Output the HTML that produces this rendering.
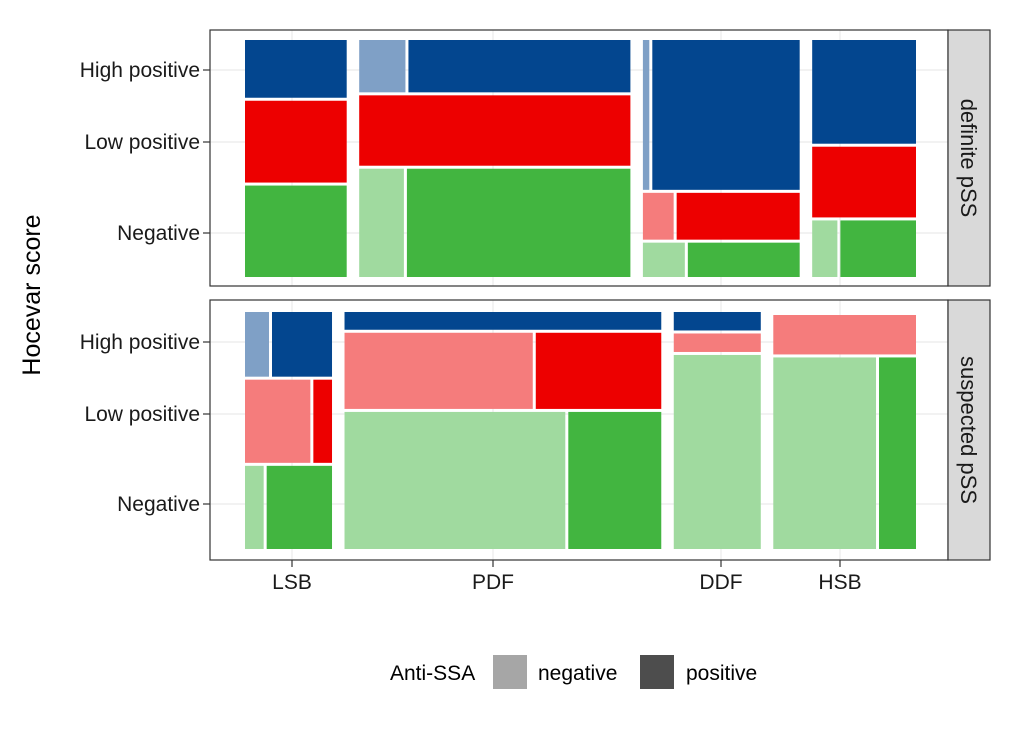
<!DOCTYPE html>
<html><head><meta charset="utf-8"><style>
body{margin:0;background:#fff;}
svg text{font-family:"Liberation Sans",Arial,sans-serif;}
</style></head><body>
<svg id="chart" width="1019" height="728" viewBox="0 0 1019 728" xmlns="http://www.w3.org/2000/svg">
<rect width="1019" height="728" fill="#fff"/>
<text transform="translate(40,295) rotate(-90)" text-anchor="middle" font-size="25" fill="#000">Hocevar score</text>
<g>
<text x="390" y="680" font-size="21" fill="#000">Anti-SSA</text>
<rect x="493" y="655" width="34" height="34" fill="#a6a6a6"/>
<text x="538" y="680" font-size="21" fill="#000">negative</text>
<rect x="640" y="655" width="34" height="34" fill="#4d4d4d"/>
<text x="686" y="680" font-size="21" fill="#000">positive</text>
</g>
</svg>
<script>
const groups = ["LSB","PDF","DDF","HSB"];
const levels = ["High positive","Low positive","Negative"];
const panels = ["definite pSS","suspected pSS"];
// counts [negative, positive] per group per level (High, Low, Negative)
const definiteCounts = [
  [[0,12],[0,17],[0,19]],
  [[5,24],[0,39],[10,50]],
  [[2,46],[3,12],[3,8]],
  [[0,22],[0,15],[3,9]]
];
const suspectedCounts = [
  [[2,5],[7,2],[2,7]],
  [[0,7],[18,12],[38,16]],
  [[0,2],[2,0],[21,0]],
  [[0,0],[7,0],[25,9]]
];
const xTickLabels = ["LSB","PDF","DDF","HSB"];
const xTickPos = [292,493,721,840];

const svg = document.getElementById('chart');
const NS = 'http://www.w3.org/2000/svg';
const posCol = ["#03468F","#ED0000","#42B540"];
const negCol = ["#7FA0C6","#F57C7C","#A0DA9F"];
function mk(tag, attrs){const e=document.createElementNS(NS,tag);for(const k in attrs)e.setAttribute(k,attrs[k]);svg.appendChild(e);return e;}

const PX0=210, PX1=948, innerX0=245, innerX1=916, gapX=12.5, gapY=3;
const panelY=[[30,286],[300,560]];
const innerY=[[40,277],[312,549]];
const tickY=[[70,142,233],[342,414,504]];
const allCounts=[definiteCounts,suspectedCounts];

allCounts.forEach((counts,p)=>{
  const [py0,py1]=panelY[p];
  const bg=mk('rect',{x:PX0,y:py0,width:PX1-PX0,height:py1-py0,fill:'#fff'});
  
  
  xTickPos.forEach(x=>{const l=mk('line',{x1:x,x2:x,y1:py0,y2:py1,stroke:'#ebebeb','stroke-width':1.2});
    });
  tickY[p].forEach((y,i)=>{
    const l=mk('line',{x1:PX0,x2:PX1,y1:y,y2:y,stroke:'#ebebeb','stroke-width':1.2});
    
    const t=mk('line',{x1:203,x2:210,y1:y,y2:y,stroke:'#333','stroke-width':1.2});
    
    const tx=mk('text',{x:200,y:y+7,'text-anchor':'end','font-size':21,fill:'#1a1a1a'});
    tx.textContent=levels[i];
    
  });
  const gt=counts.map(g=>g.reduce((s,r)=>s+r[0]+r[1],0));
  const total=gt.reduce((a,b)=>a+b,0);
  const cw=(innerX1-innerX0)-gapX*(groups.length-1);
  const [iy0,iy1]=innerY[p];
  const ch=(iy1-iy0)-gapY*(levels.length-1);
  let x=innerX0;
  counts.forEach((g,gi)=>{
    const w=gt[gi]/total*cw;
    let y=iy0;
    g.forEach((r,li)=>{
      const rt=r[0]+r[1];
      const h=rt/gt[gi]*ch;
      if(rt>0){
        const both=r[0]>0&&r[1]>0;
        const ww=w-(both?3:0);
        const wn=r[0]/rt*ww;
        if(r[0]>0){const e=mk('rect',{x:x,y:y,width:wn,height:h,fill:negCol[li]});
          }
        if(r[1]>0){const xs=x+wn+(both?3:0);const e=mk('rect',{x:xs,y:y,width:w-(xs-x),height:h,fill:posCol[li]});
          }
      }
      y+=h+gapY;
    });
    x+=w+gapX;
  });
  const br=mk('rect',{x:PX0,y:py0,width:PX1-PX0,height:py1-py0,fill:'none',stroke:'#333','stroke-width':1.2});
  
  const st=mk('rect',{x:PX1,y:py0,width:42,height:py1-py0,fill:'#d9d9d9',stroke:'#333','stroke-width':1.2});
  
  const cy=(py0+py1)/2;
  const sl=mk('text',{transform:'translate('+(PX1+13)+','+cy+') rotate(90)','text-anchor':'middle','font-size':22,fill:'#1a1a1a'});
  sl.textContent=panels[p];
  
});
xTickPos.forEach((x,i)=>{
  const t=mk('line',{x1:x,x2:x,y1:560,y2:567,stroke:'#333','stroke-width':1.2});
  
  const tx=mk('text',{x:x,y:589,'text-anchor':'middle','font-size':21,fill:'#1a1a1a'});
  tx.textContent=xTickLabels[i];
  
});
</script>
</body></html>
